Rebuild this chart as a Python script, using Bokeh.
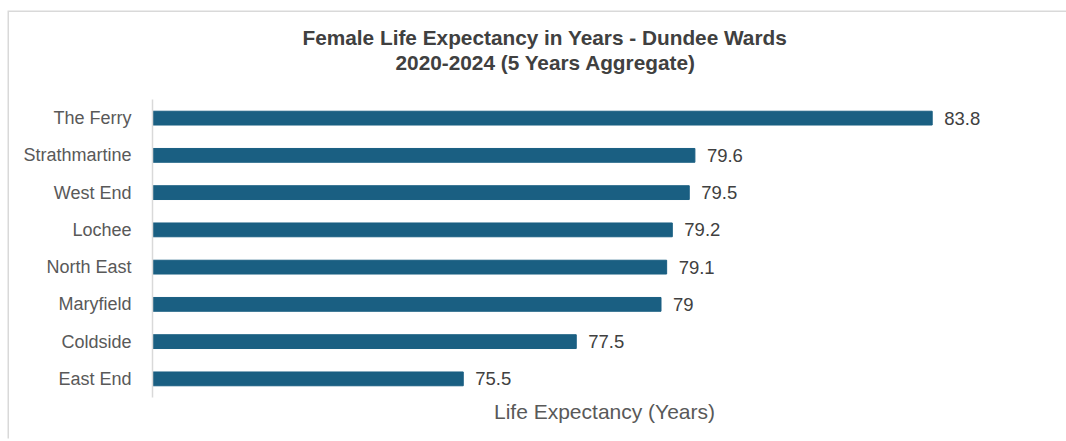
from bokeh.plotting import figure
from bokeh.models import FactorRange, Range1d, FixedTicker, Title, ColumnDataSource
from bokeh.core.properties import value
from bokeh.embed import file_html
from bokeh.resources import INLINE

wards = ["The Ferry", "Strathmartine", "West End", "Lochee", "North East", "Maryfield", "Coldside", "East End"]
life_expectancy = [83.8, 79.6, 79.5, 79.2, 79.1, 79.0, 77.5, 75.5]
title_line1 = "Female Life Expectancy in Years - Dundee Wards"
title_line2 = "2020-2024 (5 Years Aggregate)"
x_label = "Life Expectancy (Years)"

FONT = "Liberation Sans"
BAR = "#1a5f82"

src = ColumnDataSource(dict(
    ward=wards,
    val=life_expectancy,
    lab=[f"{v:g}" for v in life_expectancy],
))

p = figure(
    width=1060, height=428,
    y_range=FactorRange(factors=list(reversed(wards))),
    x_range=Range1d(70, 86),
    output_backend="svg", toolbar_location=None, title=None,
    min_border_left=143, min_border_right=13, min_border_top=87, min_border_bottom=43,
)
p.margin = (12, 0, 0, 9)
# light grey chart-area border on the top and left (drawn outside the element)
p.styles = {"box-shadow": "-1.5px -1.5px 0 0 #d9d9d9"}
p.outline_line_color = None
p.xgrid.visible = False
p.ygrid.visible = False

p.hbar(y="ward", left=70, right="val", height=0.37, color=BAR, source=src)
p.text(x="val", y="ward", text="lab", source=src, x_offset=12,
       text_baseline="middle", text_align="left",
       text_font=value(FONT), text_font_size="18.5px", text_color="#404040")

# y axis
p.yaxis.axis_line_color = "#d9d9d9"
p.yaxis.axis_line_width = 1.5
p.yaxis.major_tick_line_color = None
p.yaxis.minor_tick_line_color = None
p.yaxis.major_label_standoff = 15
p.yaxis.major_label_text_font = FONT
p.yaxis.major_label_text_font_size = "18px"
p.yaxis.major_label_text_color = "#595959"

# x axis
p.xaxis.ticker = FixedTicker(ticks=[])
p.xaxis.axis_line_color = None
p.xaxis.major_tick_line_color = None
p.xaxis.minor_tick_line_color = None
p.xaxis.axis_label = x_label
p.xaxis.axis_label_text_font = FONT
p.xaxis.axis_label_text_font_size = "21px"
p.xaxis.axis_label_text_font_style = "normal"
p.xaxis.axis_label_text_color = "#595959"
p.xaxis.axis_label_standoff = 2

# titles: first added sits nearest the frame (a blank spacer first)
common = dict(align="left", text_font=FONT, text_font_size="20.8px",
              text_font_style="bold", text_color="#404040")
p.add_layout(Title(text=" ", standoff=1, **common), "above")
p.add_layout(Title(text=title_line2, offset=243, standoff=0, **common), "above")
p.add_layout(Title(text=title_line1, offset=150, standoff=0, **common), "above")

open("out.html", "w").write(file_html(p, INLINE))
